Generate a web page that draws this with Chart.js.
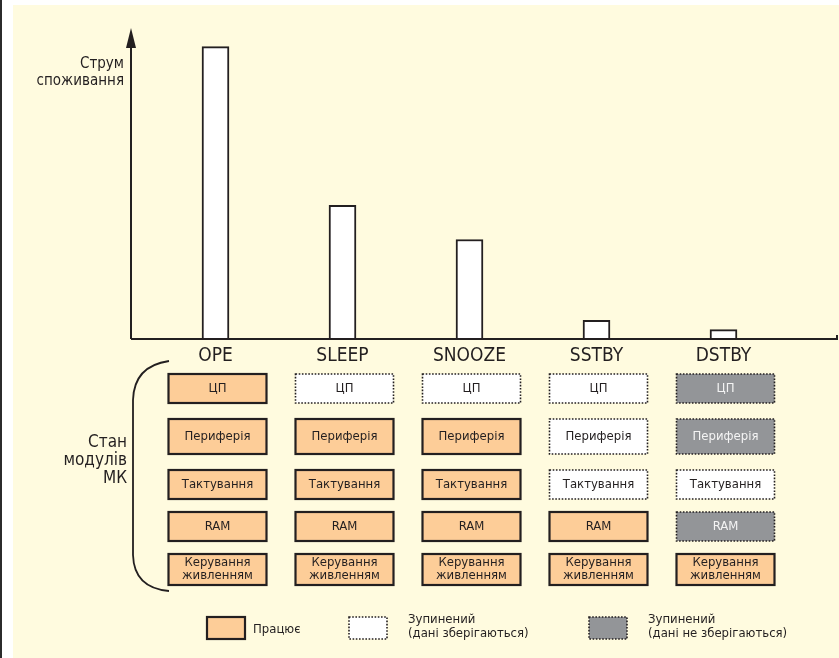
<!DOCTYPE html>
<html>
<head>
<meta charset="utf-8">
<script src="https://cdn.jsdelivr.net/npm/chart.js@4"></script>
<style>
  html, body { margin: 0; padding: 0; background: #fff; }
  #wrap { width: 839px; height: 658px; }
</style>
</head>
<body>
<div id="wrap"><canvas id="powerChart" width="839" height="658"></canvas></div>
<script>
// режими роботи МК та відносний струм споживання
const modes = ["OPE", "SLEEP", "SNOOZE", "SSTBY", "DSTBY"];
const current = [94, 43, 32, 6, 3];

// модулі МК
const modules = ["ЦП", "Периферія", "Тактування", "RAM", "Керування\nживленням"];

// стан модулів у кожному режимі: on = працює, hold = зупинений (дані зберігаються), off = зупинений (дані не зберігаються)
const stateOPE = ["on", "on", "on", "on", "on"];
const stateSLEEP = ["hold", "on", "on", "on", "on"];
const stateSNOOZE = ["hold", "on", "on", "on", "on"];
const stateSSTBY = ["hold", "hold", "hold", "on", "on"];
const stateDSTBY = ["off", "off", "hold", "off", "on"];

const legendStates = ["on", "hold", "off"];
const legendLabels = ["Працює", "Зупинений\n(дані зберігаються)", "Зупинений\n(дані не зберігаються)"];

const yTitle = ["Струм", "споживання"];
const groupTitle = ["Стан", "модулів", "МК"];

const FONT = "'Liberation Sans Narrow', 'DejaVu Sans Condensed', 'Arial Narrow', sans-serif";
const INK = "#231f20";

const stateStyle = {
  on: { fill: "#fdcd98", dashed: false, text: INK },
  hold: { fill: "#ffffff", dashed: true, text: INK },
  off: { fill: "#939598", dashed: true, text: "#f4f4f4" },
};

function drawBox(ctx, x, y, w, h, state) {
  const s = stateStyle[state];
  ctx.save();
  ctx.fillStyle = s.fill;
  ctx.fillRect(x, y, w, h);
  ctx.strokeStyle = INK;
  if (s.dashed) {
    ctx.lineWidth = 1.6;
    ctx.setLineDash([1.6, 1.6]);
  } else {
    ctx.lineWidth = 2.2;
  }
  ctx.strokeRect(x, y, w, h);
  ctx.restore();
}

const backdrop = {
  id: "backdrop",
  beforeDraw(chart) {
    const ctx = chart.ctx;
    ctx.save();
    ctx.fillStyle = "#ffffff";
    ctx.fillRect(0, 0, chart.width, chart.height);
    ctx.fillStyle = "#fffbdf";
    ctx.fillRect(13, 5, chart.width - 13, chart.height - 5);
    ctx.fillStyle = "#2b2b2b";
    ctx.fillRect(0, 0, 2, chart.height);
    ctx.restore();
  },
};

const diagram = {
  id: "diagram",
  afterDatasetsDraw(chart) {
    const ctx = chart.ctx;
    const x = chart.scales.x;
    const area = chart.chartArea;
    const axisY = area.bottom;
    const axisX = 131;

    ctx.save();
    // осі
    ctx.strokeStyle = INK;
    ctx.lineWidth = 2;
    ctx.beginPath();
    ctx.moveTo(axisX, axisY);
    ctx.lineTo(837, axisY);
    ctx.lineTo(837, axisY - 4);
    ctx.moveTo(axisX, axisY);
    ctx.lineTo(axisX, 40);
    ctx.stroke();
    ctx.fillStyle = INK;
    ctx.beginPath();
    ctx.moveTo(axisX, 28);
    ctx.lineTo(axisX - 5, 48);
    ctx.lineTo(axisX + 5, 48);
    ctx.closePath();
    ctx.fill();

    // підпис осі Y
    ctx.font = "15px " + FONT;
    ctx.textAlign = "right";
    ctx.textBaseline = "middle";
    ctx.fillText(yTitle[0], 124, 64);
    ctx.fillText(yTitle[1], 124, 81);

    // назви режимів
    ctx.font = "19px " + FONT;
    ctx.textAlign = "center";
    modes.forEach((m, i) => {
      ctx.fillText(m, x.getPixelForValue(i), 356);
    });

    // таблиця станів
    const states = [stateOPE, stateSLEEP, stateSNOOZE, stateSSTBY, stateDSTBY];
    const rowTop = [374, 419, 470, 512, 554];
    const rowH = [29, 35, 29, 29, 31];
    const boxW = 98;
    states.forEach((col, i) => {
      const cx = x.getPixelForValue(i) + 2;
      col.forEach((st, r) => {
        drawBox(ctx, cx - boxW / 2, rowTop[r], boxW, rowH[r], st);
        ctx.fillStyle = stateStyle[st].text;
        ctx.font = "13px " + FONT;
        const lines = modules[r].split("\n");
        const mid = rowTop[r] + rowH[r] / 2;
        lines.forEach((ln, k) => {
          ctx.fillText(ln, cx, mid + (k - (lines.length - 1) / 2) * 13);
        });
      });
    });

    // дужка
    ctx.strokeStyle = INK;
    ctx.lineWidth = 1.8;
    ctx.beginPath();
    ctx.moveTo(169, 361);
    ctx.quadraticCurveTo(134, 366, 133, 400);
    ctx.lineTo(133, 555);
    ctx.quadraticCurveTo(134, 588, 169, 591);
    ctx.stroke();

    ctx.fillStyle = INK;
    ctx.font = "17px " + FONT;
    ctx.textAlign = "right";
    groupTitle.forEach((t, k) => ctx.fillText(t, 127, 443 + k * 18));

    // легенда
    const legX = [207, 349, 589];
    const legW = [38, 38, 38];
    legendStates.forEach((st, k) => {
      drawBox(ctx, legX[k], 617, legW[k], 22, st);
      ctx.fillStyle = INK;
      ctx.textAlign = "left";
      ctx.font = "13px " + FONT;
      const lines = legendLabels[k].split("\n");
      const tx = legX[k] + legW[k] + (k === 0 ? 8 : 21);
      if (lines.length === 1) {
        ctx.fillText(lines[0], tx, 630);
      } else {
        lines.forEach((ln, j) => ctx.fillText(ln, tx, 620 + j * 14));
      }
    });
    ctx.restore();
  },
};

new Chart(document.getElementById("powerChart"), {
  type: "bar",
  data: {
    labels: modes,
    datasets: [
      {
        label: "Струм споживання",
        data: current,
        backgroundColor: "#ffffff",
        borderColor: INK,
        borderWidth: 2,
        barThickness: 27,
      },
    ],
  },
  options: {
    responsive: false,
    animation: false,
    devicePixelRatio: 1,
    layout: { padding: { left: 152, right: 52, top: 28, bottom: 319 } },
    plugins: { legend: { display: false }, tooltip: { enabled: false } },
    scales: {
      x: { display: false },
      y: { display: false, min: 0, max: 100 },
    },
  },
  plugins: [backdrop, diagram],
});
</script>
</body>
</html>
